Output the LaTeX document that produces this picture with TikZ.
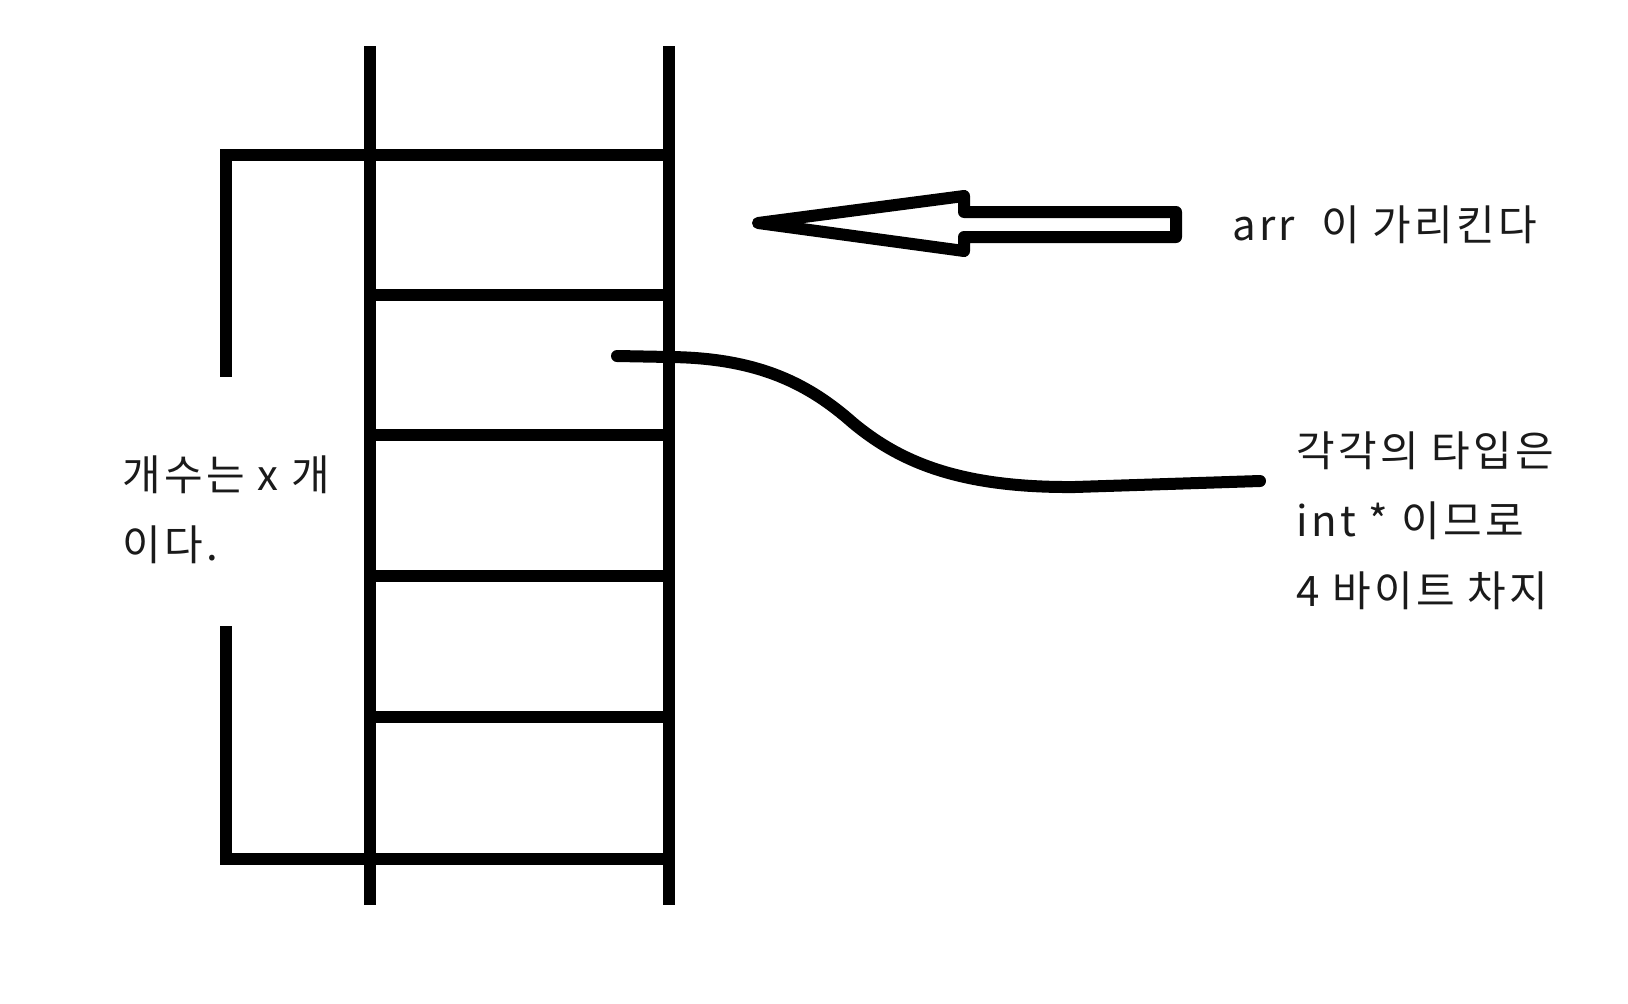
\documentclass[tikz,border=0pt]{standalone}
\usepackage{fontspec}
\setmainfont{Noto Sans CJK KR}
\usetikzlibrary{positioning}
\definecolor{Ink}  {HTML}{000000}
\definecolor{Txt}  {HTML}{1A1A1A}
\tikzset{
  pen/.style={
    draw=Ink, line width=12pt,
  },
  rpen/.style={
    draw=Ink, line width=12pt, line cap=round, line join=round,
  },
  note/.style={
    text=Txt, inner sep=0pt, align=left,
    font=\fontsize{42}{70}\selectfont\addfontfeature{LetterSpace=8},
  },
}

\begin{document}
\begin{tikzpicture}[x=1pt,y=-1pt]

    \useasboundingbox[fill=white] (0,0) rectangle (1628,1004);

    % ladder: two rails and six rungs
    \draw[pen] (370,46) -- (370,905);
    \draw[pen] (669,46) -- (669,905);
    \foreach \yy in {155,295,435,576,717,859}
      \draw[pen] (364,\yy) -- (675,\yy);

    % bracket on the left
    \draw[pen] (370,155) -- (226,155) -- (226,377);
    \draw[pen] (226,626) -- (226,859) -- (370,859);

    % hollow arrow
    \draw[rpen] (758,223) -- (964,196) -- (964,212) -- (1176,212)
        -- (1176,237) -- (964,237) -- (964,251) -- cycle;

    \node[note, anchor=west] (arrlbl) at (1232,225)
        {arr\hspace{26pt}이 가리킨다};
    \node[note, anchor=west] (typlbl) at (1296,521)
        {각각의 타입은\\int * 이므로\\4 바이트 차지};
    \node[note, anchor=west] (cntlbl) at (122,510) {개수는 x 개\\이다.};

    \coordinate (cellin) at (617,356);
    \coordinate (cellout) at (1260,481);
    \draw[rpen] (cellin) -- (670,357)
        .. controls (760,358) and (810,385) .. (853,423)
        .. controls (900,462) and (960,488) .. (1075,487)
        -- (cellout);

\end{tikzpicture}
\end{document}
